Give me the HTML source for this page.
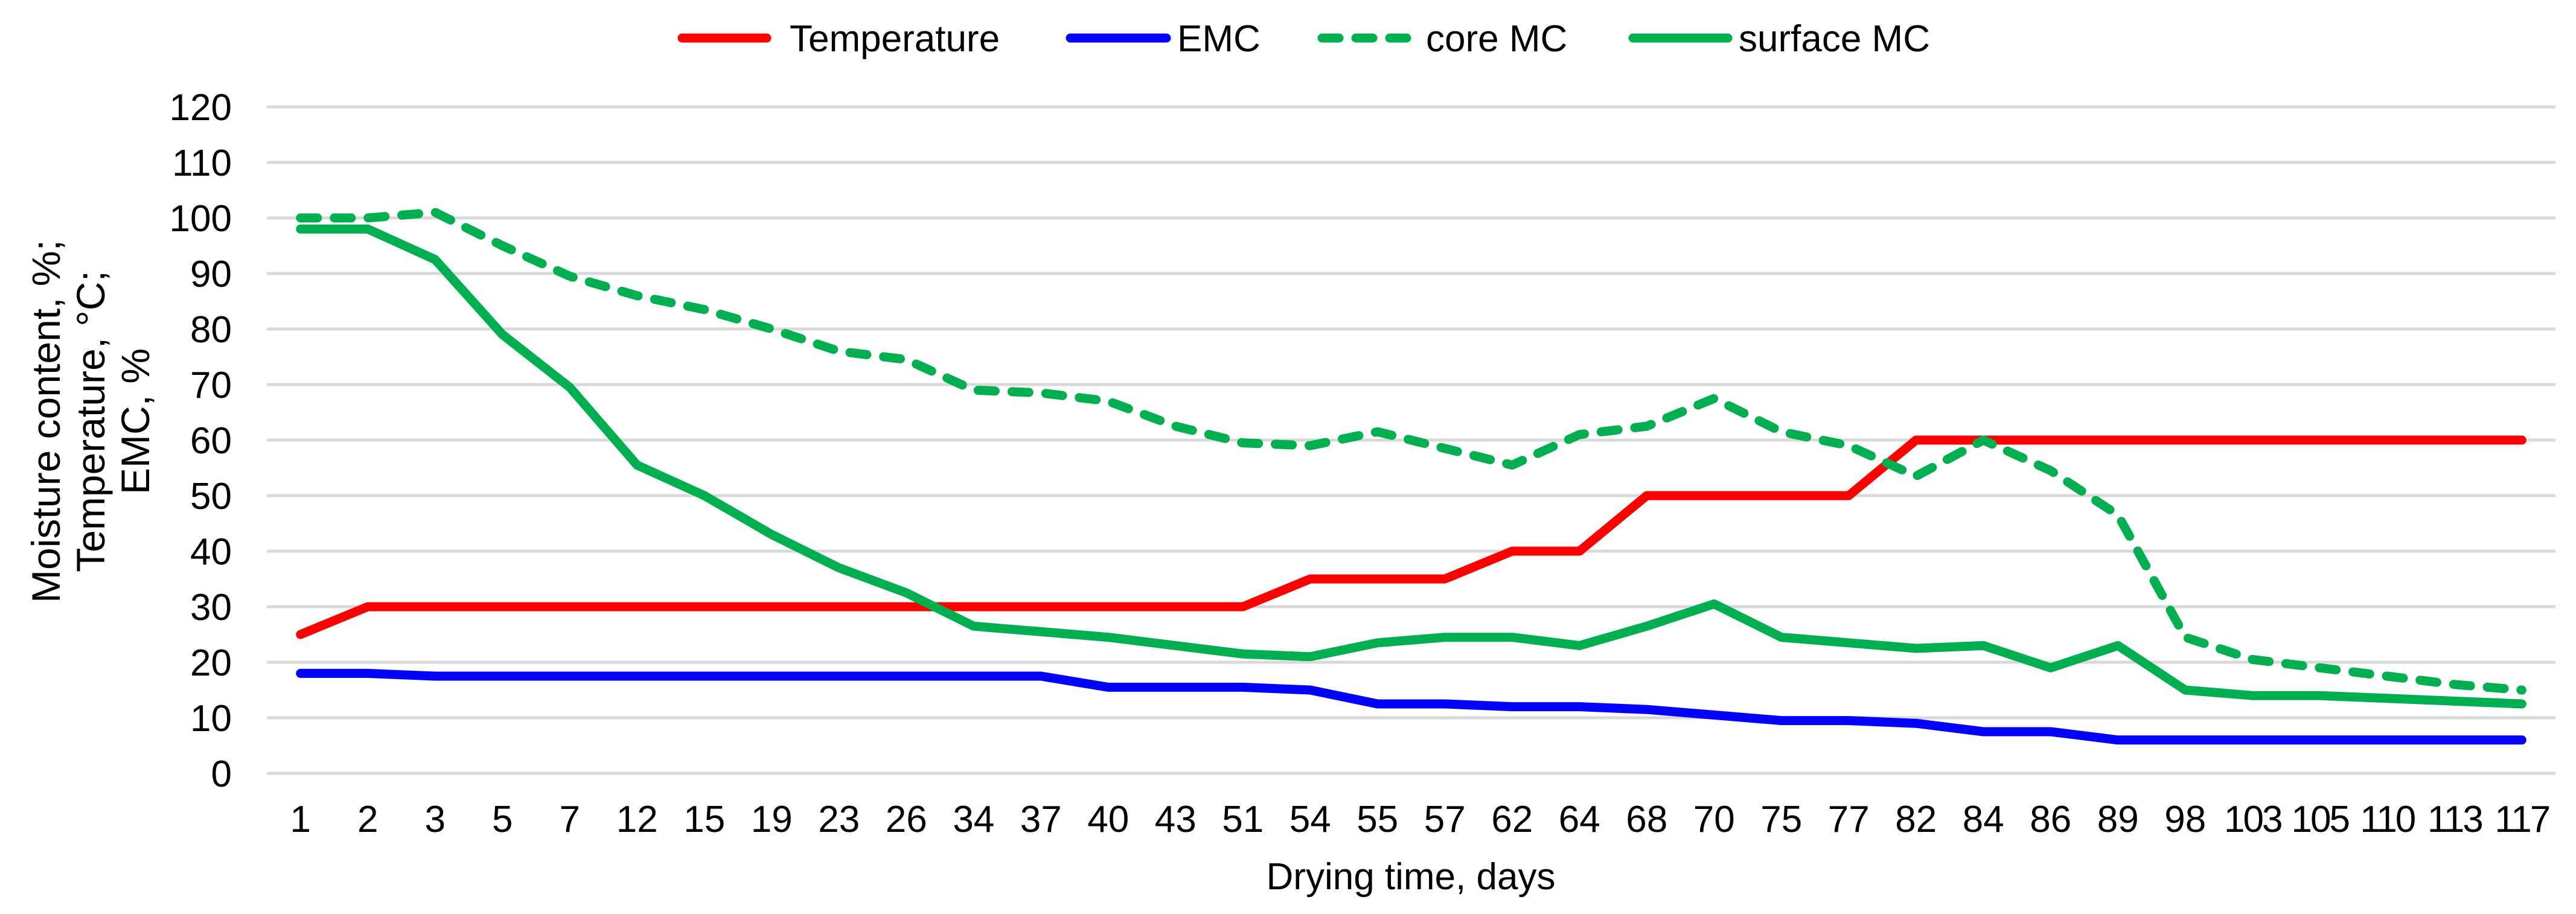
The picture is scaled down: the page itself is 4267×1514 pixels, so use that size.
<!DOCTYPE html>
<html><head><meta charset="utf-8">
<style>
html,body{margin:0;padding:0;background:#fff;}
svg{display:block;font-family:"Liberation Sans",Arial,sans-serif;}
</style></head>
<body>
<svg id="chart" width="4267" height="1514" viewBox="0 0 4267 1514" xmlns="http://www.w3.org/2000/svg">
  <g id="grid"></g>
  <g id="yticks" font-size="62" text-anchor="end"></g>
  <g id="xticks" font-size="62" text-anchor="middle"></g>
  <g id="series"></g>
  <text x="2337" y="1473" font-size="62" text-anchor="middle">Drying time, days</text>
  <g font-size="66" text-anchor="middle">
    <text transform="translate(99,698) rotate(-90)">Moisture content, %;</text>
    <text transform="translate(173,698) rotate(-90)">Temperature, °C;</text>
    <text transform="translate(247,698) rotate(-90)">EMC, %</text>
  </g>
  <g font-size="62">
    <g>
      <line x1="1130" y1="63" x2="1270" y2="63" stroke="#ff0000" stroke-width="15" stroke-linecap="round"/>
      <text x="1308" y="85">Temperature</text>
    </g>
    <g>
      <line x1="1773" y1="63" x2="1932" y2="63" stroke="#0000ff" stroke-width="15" stroke-linecap="round"/>
      <text x="1950" y="85">EMC</text>
    </g>
    <g>
      <line x1="2190" y1="63" x2="2330" y2="63" stroke="#00b050" stroke-width="15" stroke-linecap="round" stroke-dasharray="28 28"/>
      <text x="2362" y="85">core MC</text>
    </g>
    <g>
      <line x1="2705" y1="63" x2="2862" y2="63" stroke="#00b050" stroke-width="15" stroke-linecap="round"/>
      <text x="2880" y="85">surface MC</text>
    </g>
  </g>
</svg>
<script>
const categories = ["1","2","3","5","7","12","15","19","23","26","34","37","40","43","51","54","55","57","62","64","68","70","75","77","82","84","86","89","98","103","105","110","113","117"];
const temperature = [25,30,30,30,30,30,30,30,30,30,30,30,30,30,30,35,35,35,40,40,50,50,50,50,60,60,60,60,60,60,60,60,60,60];
const emc = [18,18,17.5,17.5,17.5,17.5,17.5,17.5,17.5,17.5,17.5,17.5,15.5,15.5,15.5,15,12.5,12.5,12,12,11.5,10.5,9.5,9.5,9,7.5,7.5,6,6,6,6,6,6,6];
const coreMC = [100,100,101,95,89.5,86,83.5,80,76,74.5,69,68.5,67,62.5,59.5,59,61.5,58.5,55.5,61,62.5,67.5,61.5,59,53.5,60,54.5,46.5,24.5,20.5,19,17.5,16,15];
const surfaceMC = [98,98,92.5,79,69.5,55.5,50,43,37,32.5,26.5,25.5,24.5,23,21.5,21,23.5,24.5,24.5,23,26.5,30.5,24.5,23.5,22.5,23,19,23,15,14,14,13.5,13,12.5];
const yTicks = [0,10,20,30,40,50,60,70,80,90,100,110,120];

const NS = "http://www.w3.org/2000/svg";
const L = 442, R = 4233, T = 177, B = 1281, YMAX = 120;
const band = (R - L) / categories.length;
function xPos(i){ return L + band * (i + 0.5); }
function yPos(v){ return B - (v / YMAX) * (B - T); }

const grid = document.getElementById('grid');
const yt = document.getElementById('yticks');
yTicks.forEach(v => {
  const ln = document.createElementNS(NS,'line');
  ln.setAttribute('x1',L); ln.setAttribute('x2',R);
  ln.setAttribute('y1',yPos(v)); ln.setAttribute('y2',yPos(v));
  ln.setAttribute('stroke','#d9d9d9'); ln.setAttribute('stroke-width','5');
  
  
  grid.appendChild(ln);
  const t = document.createElementNS(NS,'text');
  t.setAttribute('x',384); t.setAttribute('y',yPos(v)+22);
  t.textContent = v;
  
  
  yt.appendChild(t);
});
const xt = document.getElementById('xticks');
categories.forEach((c,i) => {
  const t = document.createElementNS(NS,'text');
  t.setAttribute('x',xPos(i)); t.setAttribute('y',1378);
  t.setAttribute('letter-spacing', c.length > 2 ? '-3' : '0');
  t.textContent = c;
  
  
  xt.appendChild(t);
});
const series = document.getElementById('series');
function addLine(vals, color, dash, name){
  const p = document.createElementNS(NS,'polyline');
  p.setAttribute('points', vals.map((v,i)=>xPos(i).toFixed(1)+','+yPos(v).toFixed(1)).join(' '));
  p.setAttribute('fill','none'); p.setAttribute('stroke',color);
  p.setAttribute('stroke-width','15'); p.setAttribute('stroke-linecap','round'); p.setAttribute('stroke-linejoin','round');
  if (dash) p.setAttribute('stroke-dasharray', dash);
  
  
  series.appendChild(p);
}
addLine(temperature,'#ff0000',null,'temperature-line');
addLine(emc,'#0000ff',null,'emc-line');
addLine(coreMC,'#00b050','28 28','core-mc-line');
addLine(surfaceMC,'#00b050',null,'surface-mc-line');
</script>
</body></html>
